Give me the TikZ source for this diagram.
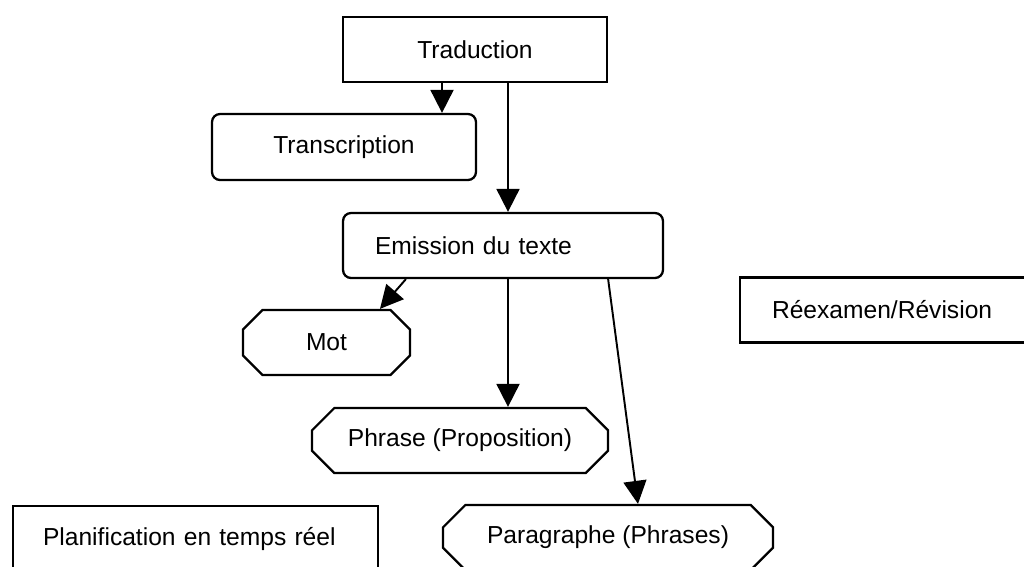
\documentclass[tikz,border=0pt]{standalone}
\usepackage{fontspec}
\setmainfont{Liberation Sans}
\usetikzlibrary{arrows.meta,shapes.misc,positioning,calc}

\begin{document}
\begin{tikzpicture}[x=0.02cm, y=-0.02cm,
    every node/.style={font=\fontsize{14}{16}\selectfont},
    box/.style={draw,line width=1.3pt,minimum height=1.3cm,align=center},
    leftbox/.style={box,align=left,inner xsep=0.64cm},
    roundbox/.style={box,rounded corners=0.16cm},
    chambox/.style={draw,line width=1.3pt,chamfered rectangle,
        chamfered rectangle xsep=0.4cm,chamfered rectangle ysep=0.1cm,
        minimum height=1.3cm,align=center},
    arr/.style={-{Triangle[length=0.46cm,width=0.46cm]},line width=1.1pt}]
  \clip (0,0) rectangle (1024,566);
  \fill[white] (0,0) rectangle (1024,566);
  % upper part
  \node[box,minimum width=5.28cm] (trad) at (475,49.5) {Traduction};
  \node[roundbox,minimum width=5.28cm,minimum height=1.32cm] (transc)
    at (344,147) {Transcription};
  \node[leftbox,rounded corners=0.16cm,text width=5.12cm] (emis)
    at (503,245.5) {Emission du texte};
  \node[leftbox,text width=4.72cm] (reex) at (890,310) {Réexamen/Révision};
  % units
  \node[chambox,minimum width=3.34cm] (mot) at (326.5,342.5) {Mot};
  \node[chambox,minimum width=5.92cm] (phrase) at (460,440.5)
    {Phrase (Proposition)};
  \node[chambox,minimum width=6.6cm] (para) at (608,537.5)
    {Paragraphe (Phrases)};
  \node[leftbox,inner xsep=0.6cm,text width=6.1cm] (plan) at (195.5,538.5)
    {Planification en temps réel};
  % connectors
  \draw[arr] ([xshift=-0.66cm]trad.south)
    -- ([xshift=-0.66cm]trad.south |- transc.north);
  \draw[arr] ([xshift=0.66cm]trad.south)
    -- ([xshift=0.66cm]trad.south |- emis.north);
  \draw[arr] ([xshift=1.28cm]emis.south west) -- ([xshift=1.07cm]mot.north);
  \draw[arr] ([xshift=0.1cm]emis.south)
    -- ([xshift=0.1cm]emis.south |- phrase.north);
  \draw[arr] ([xshift=-1.12cm]emis.south east) -- ([xshift=0.6cm]para.north);
\end{tikzpicture}
\end{document}
